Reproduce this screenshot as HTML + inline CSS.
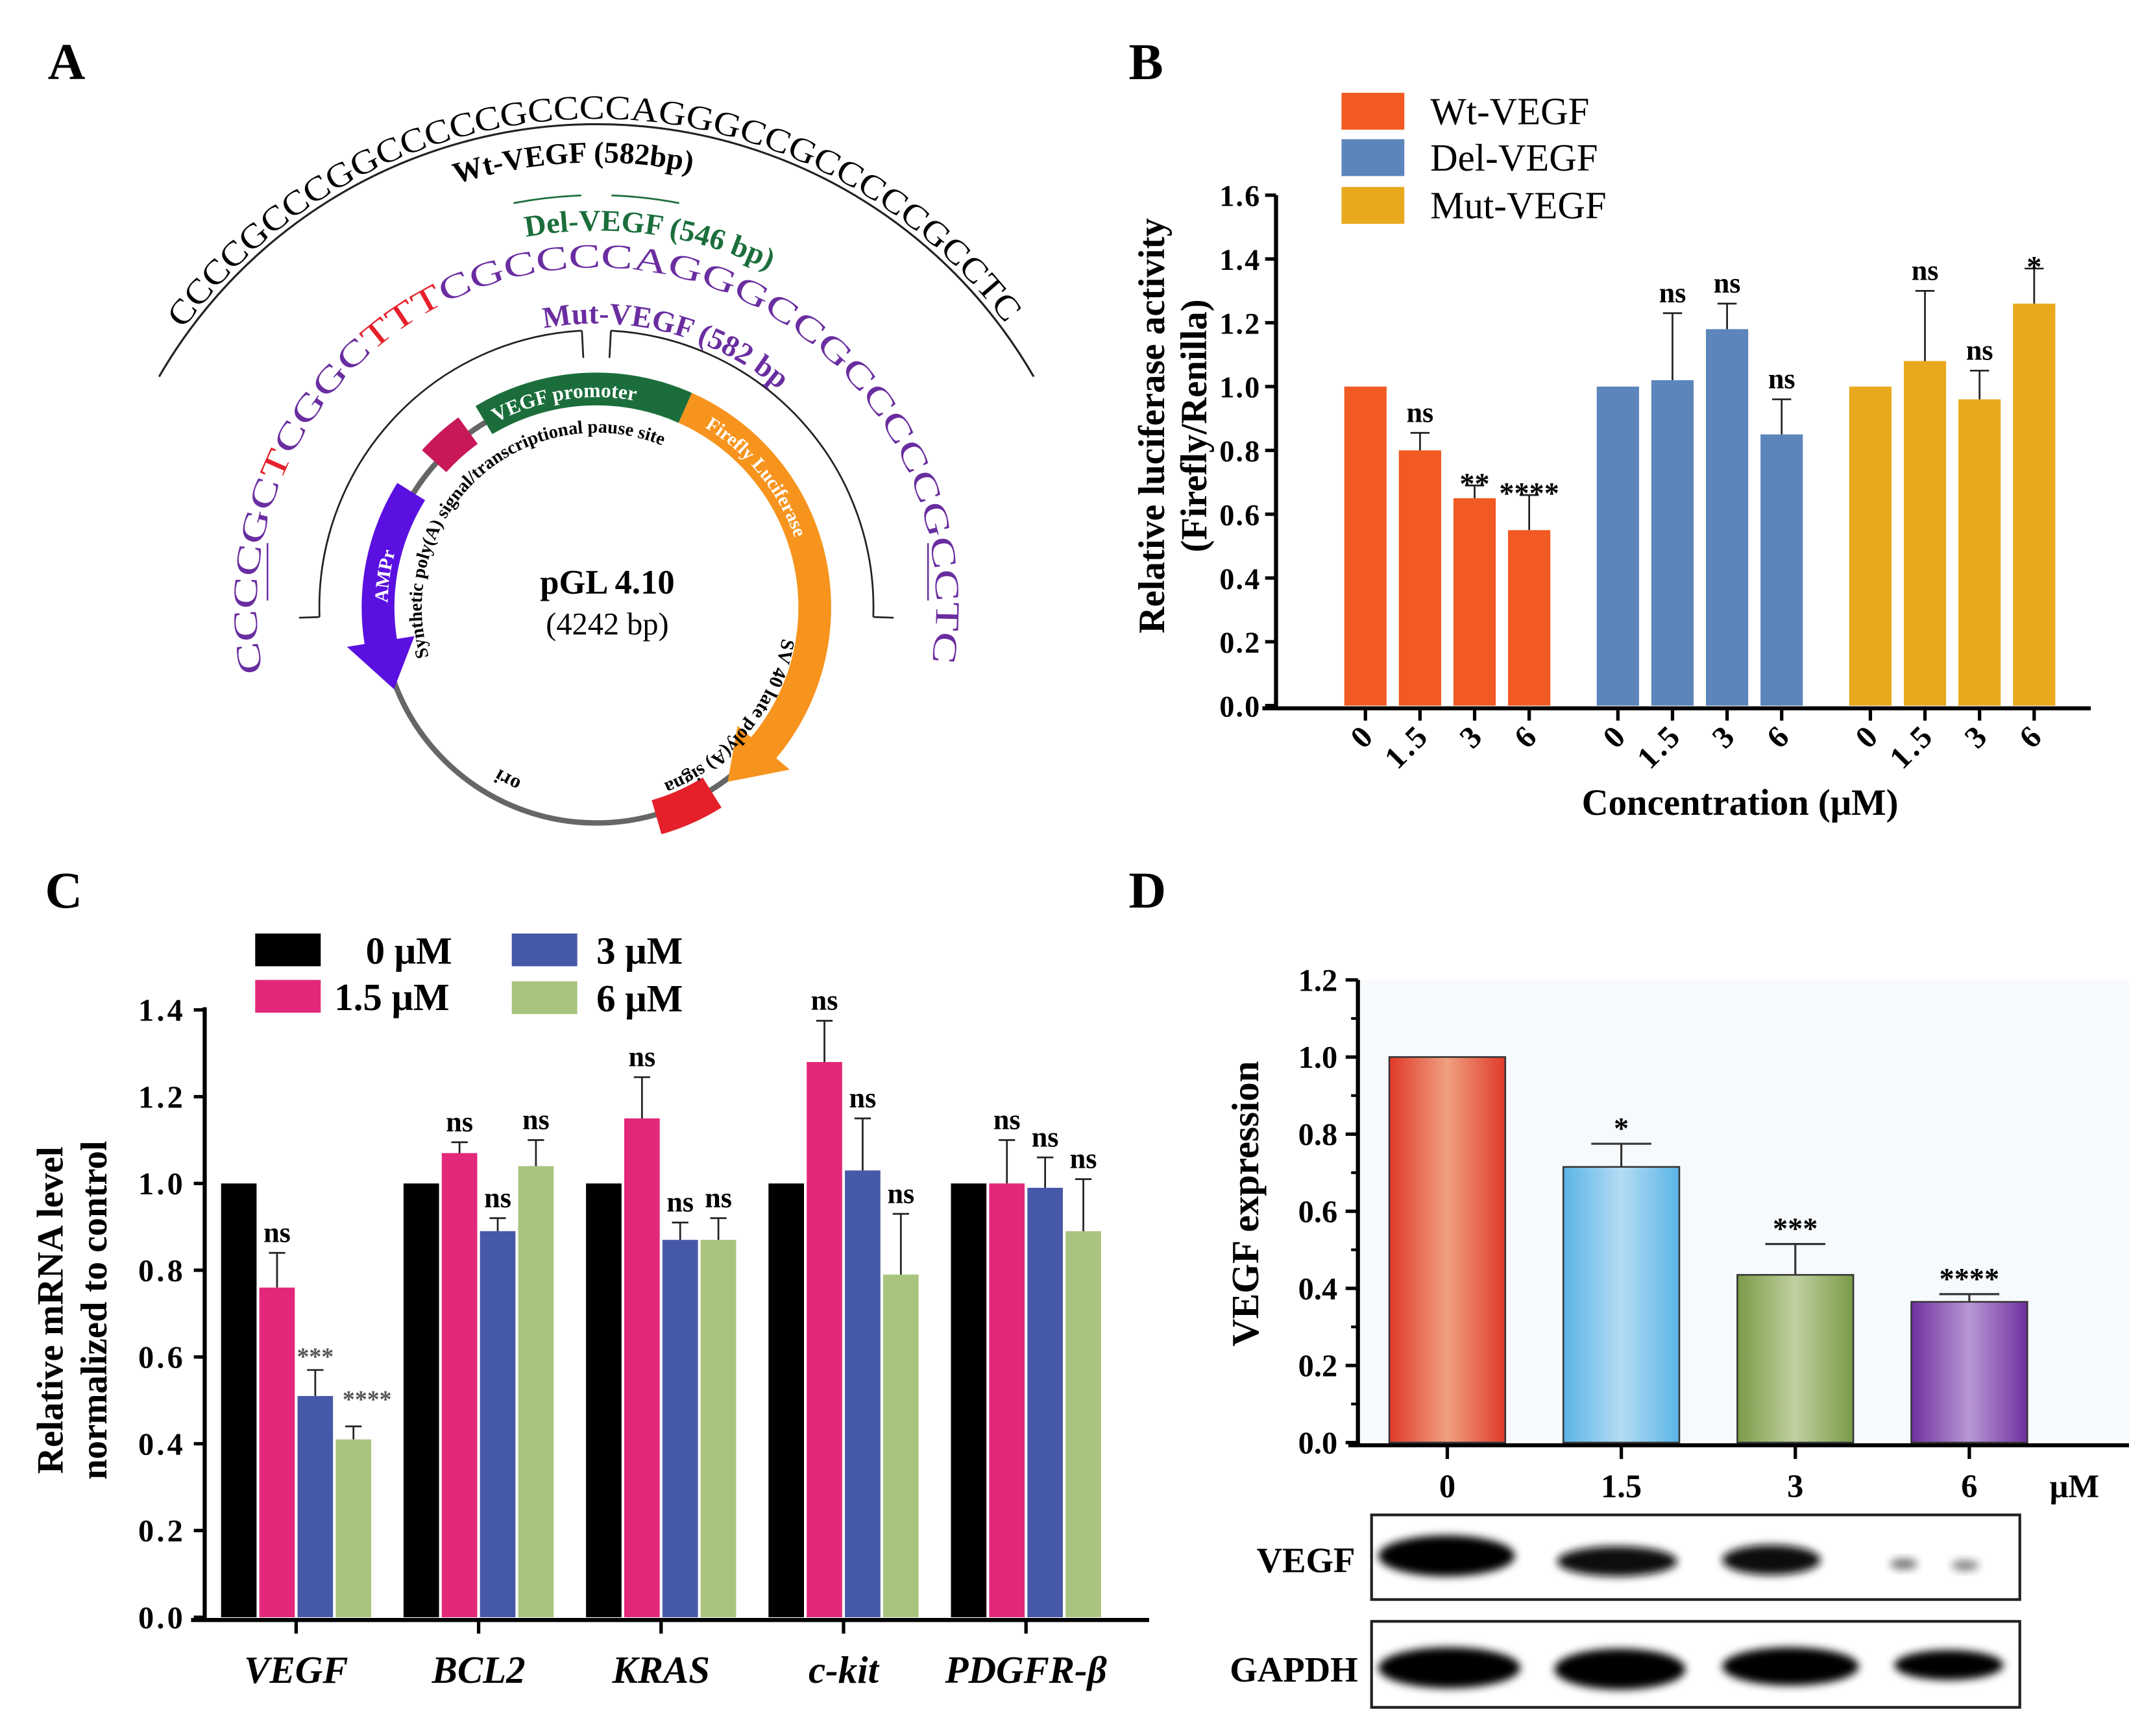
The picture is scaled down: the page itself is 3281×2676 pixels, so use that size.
<!DOCTYPE html>
<html><head><meta charset="utf-8"><style>
html,body{margin:0;padding:0;background:#fff;}
svg{display:block;}
text{font-family:"Liberation Serif",serif;}
</style></head><body>
<svg id="fig" xmlns="http://www.w3.org/2000/svg" width="3281" height="2676" viewBox="0 0 1560 1272" preserveAspectRatio="none">
<defs>
<linearGradient id="gRed" x1="0" x2="1"><stop offset="0" stop-color="#e03a2a"/><stop offset="0.5" stop-color="#f0a080"/><stop offset="1" stop-color="#e03a2a"/></linearGradient>
<linearGradient id="gBlue" x1="0" x2="1"><stop offset="0" stop-color="#5ab4e6"/><stop offset="0.5" stop-color="#b4dcf4"/><stop offset="1" stop-color="#5ab4e6"/></linearGradient>
<linearGradient id="gGreen" x1="0" x2="1"><stop offset="0" stop-color="#7a9a48"/><stop offset="0.5" stop-color="#c0d0a0"/><stop offset="1" stop-color="#7a9a48"/></linearGradient>
<linearGradient id="gPurple" x1="0" x2="1"><stop offset="0" stop-color="#7030a0"/><stop offset="0.5" stop-color="#b898d4"/><stop offset="1" stop-color="#7030a0"/></linearGradient>
<filter id="blur" x="-20%" y="-50%" width="140%" height="200%"><feGaussianBlur stdDeviation="3"/></filter>
</defs>
</svg>
<script>
// ---------- Panel B data ----------
const bCats = ['0','1.5','3','6'];
const bWt = [1.0, 0.80, 0.65, 0.55];
const bWtErr = [0, 0.055, 0.04, 0.11];
const bDel = [1.0, 1.02, 1.18, 0.85];
const bDelErr = [0, 0.21, 0.08, 0.11];
const bMut = [1.0, 1.08, 0.96, 1.26];
const bMutErr = [0, 0.22, 0.09, 0.11];
const bWtSig = ['', 'ns', '**', '****'];
const bDelSig = ['', 'ns', 'ns', 'ns'];
const bMutSig = ['', 'ns', 'ns', '*'];
const bTicks = [0, 0.2, 0.4, 0.6, 0.8, 1.0, 1.2, 1.4, 1.6];
// ---------- Panel C data ----------
const cGenes = ['VEGF', 'BCL2', 'KRAS', 'c-kit', 'PDGFR-β'];
const cDose0 = [1.0, 1.0, 1.0, 1.0, 1.0];
const cDose15 = [0.76, 1.07, 1.15, 1.28, 1.0];
const cDose3 = [0.51, 0.89, 0.87, 1.03, 0.99];
const cDose6 = [0.41, 1.04, 0.87, 0.79, 0.89];
const cErr15 = [0.08, 0.025, 0.095, 0.095, 0.1];
const cErr3 = [0.06, 0.03, 0.04, 0.12, 0.07];
const cErr6 = [0.03, 0.06, 0.05, 0.14, 0.12];
const cSig15 = ['ns', 'ns', 'ns', 'ns', 'ns'];
const cSig3 = ['***', 'ns', 'ns', 'ns', 'ns'];
const cSig6 = ['****', 'ns', 'ns', 'ns', 'ns'];
const cTicks = [0, 0.2, 0.4, 0.6, 0.8, 1.0, 1.2, 1.4];
// ---------- Panel D data ----------
const dCats = ['0', '1.5', '3', '6'];
const dVals = [1.0, 0.715, 0.435, 0.365];
const dErr = [0, 0.06, 0.08, 0.02];
const dSig = ['', '*', '***', '****'];
const dTicks = [0, 0.2, 0.4, 0.6, 0.8, 1.0, 1.2];

const NS = 'http://www.w3.org/2000/svg';
const svg = document.getElementById('fig');
function mk(tag, attrs, parent) {
  const e = document.createElementNS(NS, tag);
  for (const k in attrs) e.setAttribute(k, attrs[k]);
  (parent || svg).appendChild(e);
  return e;
}
function txt(str, attrs, parent) { const e = mk('text', attrs, parent); e.textContent = str; return e; }
function fmt(v) { return v.toFixed(1); }

let el;
// ---------- Panel labels ----------
el = txt('A', {x: 35, y: 58, 'font-size': 38, 'font-weight': 'bold'});


el = txt('B', {x: 827, y: 58, 'font-size': 38, 'font-weight': 'bold'});


el = txt('C', {x: 33, y: 665, 'font-size': 38, 'font-weight': 'bold'});


el = txt('D', {x: 827, y: 665, 'font-size': 38, 'font-weight': 'bold'});



// ---------- Panel A: plasmid ----------
const gA = mk('g', {});


function pt(cx, cy, r, deg) { const a = deg * Math.PI / 180; return [cx + r * Math.sin(a), cy - r * Math.cos(a)]; }
function arcD(cx, cy, r, a0, a1) {
  const p0 = pt(cx, cy, r, a0), p1 = pt(cx, cy, r, a1);
  const large = Math.abs(a1 - a0) > 180 ? 1 : 0, sweep = a1 > a0 ? 1 : 0;
  return `M${p0[0]},${p0[1]} A${r},${r} 0 ${large} ${sweep} ${p1[0]},${p1[1]}`;
}
const PX = 437, PY = 445, PR = 158;
el = mk('circle', {cx: PX, cy: PY, r: PR, fill: 'none', stroke: '#666', 'stroke-width': 4}, gA);


function band(a0, a1, r, w, color, arrow) {
  let d;
  const ri = r - w / 2, ro = r + w / 2;
  if (!arrow) {
    const o0 = pt(PX, PY, ro, a0), o1 = pt(PX, PY, ro, a1), i1 = pt(PX, PY, ri, a1), i0 = pt(PX, PY, ri, a0);
    const lg = Math.abs(a1 - a0) > 180 ? 1 : 0, sw = a1 > a0 ? 1 : 0;
    d = `M${o0} A${ro},${ro} 0 ${lg} ${sw} ${o1} L${i1} A${ri},${ri} 0 ${lg} ${1 - sw} ${i0} Z`;
  } else {
    const dir = a1 > a0 ? 1 : -1;
    const ah = a1 - dir * 13;
    const o0 = pt(PX, PY, ro, a0), o1 = pt(PX, PY, ro, ah), i1 = pt(PX, PY, ri, ah), i0 = pt(PX, PY, ri, a0);
    const oo = pt(PX, PY, ro + 13, ah), ii = pt(PX, PY, ri - 13, ah), tip = pt(PX, PY, r, a1);
    const lg = Math.abs(ah - a0) > 180 ? 1 : 0, sw = dir > 0 ? 1 : 0;
    d = `M${o0} A${ro},${ro} 0 ${lg} ${sw} ${o1} L${oo} L${tip} L${ii} L${i1} A${ri},${ri} 0 ${lg} ${1 - sw} ${i0} Z`;
  }
  return mk('path', {d: d, fill: color}, gA);
}
el = band(-31, 24, 160, 24, '#1b6e3c', false);  
el = band(24, 143, 160, 24, '#f7941d', true);  
el = band(148, 164, 160, 26, '#e5202a', false);  
el = band(-48, -36, 160, 24, '#c8185a', false);  
el = band(-58, -112, 160, 24, '#5a10e0', true);  
mk('path', {id: 'pRing', d: arcD(PX, PY, 154, -100, 250), fill: 'none'}, gA);
mk('path', {id: 'pInner', d: arcD(PX, PY, 128, -110, 100), fill: 'none'}, gA);
mk('path', {id: 'pInner2', d: arcD(PX, PY, 138, 60, 230), fill: 'none'}, gA);
mk('path', {id: 'pAmp', d: arcD(PX, PY, 153, -100, -60), fill: 'none'}, gA);
function pathText(str, href, offset, attrs) {
  const t = mk('text', attrs, gA);
  const tp = mk('textPath', {href: '#' + href, startOffset: offset}, t);
  tp.textContent = str;
  return t;
}
el = pathText('VEGF promoter', 'pRing', '192', {'font-size': 15, 'font-weight': 'bold', fill: '#fff'});
 
el = pathText('Firefly Luciferase', 'pRing', '352', {'font-size': 14, 'font-weight': 'bold', fill: '#fff'});
 
el = pathText('AMPr', 'pAmp', '30', {'font-size': 14, 'font-weight': 'bold', fill: '#fff'});
 
el = pathText('Synthetic poly(A) signal/transcriptional pause site', 'pInner', '8', {'font-size': 13.5, 'font-weight': 'bold'});
 
el = pathText('SV 40 late poly(A) signa', 'pInner2', '95', {'font-size': 14, 'font-weight': 'bold'});
 
el = pathText('ori', 'pInner2', '345', {'font-size': 15, 'font-weight': 'bold'});
 
el = txt('pGL 4.10', {x: 445, y: 435, 'font-size': 25, 'font-weight': 'bold', 'text-anchor': 'middle'}, gA);
 
el = txt('(4242 bp)', {x: 445, y: 465, 'font-size': 23, 'text-anchor': 'middle'}, gA);
 
el = mk('path', {d: arcD(PX, PY, 203, -92, -3) + ` M${pt(PX,PY,203,-3)} L${pt(PX,PY,183,-3)} M${pt(PX,PY,203,-92)} L${pt(PX,PY,218,-92)}`, fill: 'none', stroke: '#222', 'stroke-width': 1.3}, gA);
 
el = mk('path', {d: arcD(PX, PY, 203, 3, 92) + ` M${pt(PX,PY,203,3)} L${pt(PX,PY,183,3)} M${pt(PX,PY,203,92)} L${pt(PX,PY,218,92)}`, fill: 'none', stroke: '#222', 'stroke-width': 1.3}, gA);
 
el = mk('path', {d: arcD(437, 461, 370, -60, 60), fill: 'none', stroke: '#222', 'stroke-width': 1.5}, gA);
 
mk('path', {id: 'pWtSeq', d: arcD(437, 461, 374, -54, 54), fill: 'none'}, gA);
mk('path', {id: 'pWtLab', d: arcD(437, 461, 342, -20, 20), fill: 'none'}, gA);
mk('path', {id: 'pDelLab', d: arcD(437, 461, 292, -20, 28), fill: 'none'}, gA);
mk('path', {id: 'pMutSeq', d: arcD(PX, PY, 249, -101, 101), fill: 'none'}, gA);
mk('path', {id: 'pMutLab', d: arcD(PX, PY, 208, -12, 40), fill: 'none'}, gA);
el = mk('text', {'font-size': 25}, gA);
 
let tp = mk('textPath', {href: '#pWtSeq', textLength: 700, lengthAdjust: 'spacingAndGlyphs'}, el);
tp.textContent = 'CCCCGCCCGGCCCCCGCCCCAGGGCCGCCCCCGCCTC';
el = pathText('Wt-VEGF (582bp)', 'pWtLab', '15', {'font-size': 22, 'font-weight': 'bold'});
 
el = pathText('Del-VEGF (546 bp)', 'pDelLab', '50', {'font-size': 22, 'font-weight': 'bold', fill: '#1b6e3c'});
 
el = mk('path', {d: arcD(437, 461, 318, -11, -2) + ' ' + arcD(437, 461, 318, 2, 11), fill: 'none', stroke: '#1b6e3c', 'stroke-width': 1.3}, gA);
 
el = mk('text', {'font-size': 25, fill: '#6a2da0'}, gA);
 
tp = mk('textPath', {href: '#pMutSeq', textLength: 870, lengthAdjust: 'spacingAndGlyphs'}, el);
const seq = 'CCCCGCTCGGCTTTCGCCCCAGGGCCGCCCCCGCCTC';
const redIdx = [6, 11, 12, 13];
for (let i = 0; i < seq.length; i++) {
  const s = mk('tspan', redIdx.includes(i) ? {fill: '#e5202a'} : {}, tp);
  s.textContent = seq[i];
}
el = pathText('Mut-VEGF (582 bp)', 'pMutLab', '5', {'font-size': 22, 'font-weight': 'bold', fill: '#6a2da0'});
 
el = mk('path', {d: 'M196,398 L196,440 M680,398 L680,440', stroke: '#6a2da0', 'stroke-width': 1.2}, gA);
 

// ---------- Panel B ----------
const gB = mk('g', {});


const bY = v => 517 - v * (374 / 1.6);
const bX = (g, i) => 985 + g * 185 + i * 40;
const bW = 31;
el = mk('path', {d: 'M935,143 L935,519 M925,519 L1532,519', stroke: '#000', 'stroke-width': 3, fill: 'none'}, gB);
 
bTicks.forEach(t => {
  el = mk('line', {x1: 927, x2: 935, y1: bY(t), y2: bY(t), stroke: '#000', 'stroke-width': 2.5}, gB);
   
  el = txt(fmt(t), {x: 924, y: bY(t) + 8, 'font-size': 22, 'font-weight': 'bold', 'text-anchor': 'end', 'letter-spacing': 1}, gB);
   
});
const bSeries = [[bWt, bWtErr, bWtSig, '#f15a22', 'wt'], [bDel, bDelErr, bDelSig, '#5b85bb', 'del'], [bMut, bMutErr, bMutSig, '#e9a91e', 'mut']];
bSeries.forEach((s, g) => {
  s[0].forEach((v, i) => {
    const x = bX(g, i);
    el = mk('rect', {x: x, y: bY(v), width: bW, height: bY(0) - bY(v), fill: s[3]}, gB);
     
    if (s[1][i] > 0) {
      const cx = x + bW / 2, yt = bY(v + s[1][i]);
      el = mk('path', {d: `M${cx},${bY(v)} L${cx},${yt} M${cx - 7},${yt} L${cx + 7},${yt}`, stroke: '#222', 'stroke-width': 1.3}, gB);
       
    }
    if (s[2][i]) {
      const top = bY(v + s[1][i]);
      const star = s[2][i].includes('*');
      el = txt(s[2][i], {x: x + bW / 2, y: top - (star ? -6 : 8), 'font-size': star ? 22 : 21, 'font-weight': 'bold', 'text-anchor': 'middle'}, gB);
       
    }
    const cx = x + bW / 2;
    el = mk('line', {x1: cx, x2: cx, y1: 519, y2: 528, stroke: '#000', 'stroke-width': 2.5}, gB);
     
    el = txt(bCats[i], {x: cx + 8, y: 540, 'font-size': 23, 'font-weight': 'bold', 'text-anchor': 'end', transform: `rotate(-45 ${cx + 8} 540)`, 'letter-spacing': 2}, gB);
     
  });
});
el = txt('Concentration (μM)', {x: 1275, y: 597, 'font-size': 27, 'font-weight': 'bold', 'text-anchor': 'middle'}, gB);
 
el = txt('Relative luciferase activity', {x: 0, y: 0, 'font-size': 27, 'font-weight': 'bold', 'text-anchor': 'middle', transform: 'translate(853,312) rotate(-90)'}, gB);
 
el = txt('(Firefly/Renilla)', {x: 0, y: 0, 'font-size': 27, 'font-weight': 'bold', 'text-anchor': 'middle', transform: 'translate(884,312) rotate(-90)'}, gB);
 
[['Wt-VEGF', '#f15a22', 68], ['Del-VEGF', '#5b85bb', 102], ['Mut-VEGF', '#e9a91e', 137]].forEach(l => {
  el = mk('rect', {x: 983, y: l[2], width: 46, height: 27, fill: l[1]}, gB);
   
  el = txt(l[0], {x: 1048, y: l[2] + 23, 'font-size': 28}, gB);
   
});

// ---------- Panel C ----------
const gC = mk('g', {});


const cY = v => 1185 - v * (445 / 1.4);
const cX = (g, i) => 162 + g * 133.7 + i * 28;
const cW = 26;
el = mk('path', {d: 'M150,738 L150,1187 M140,1187 L842,1187', stroke: '#000', 'stroke-width': 3, fill: 'none'}, gC);
 
cTicks.forEach(t => {
  el = mk('line', {x1: 142, x2: 150, y1: cY(t), y2: cY(t), stroke: '#000', 'stroke-width': 2.5}, gC);
   
  el = txt(fmt(t), {x: 136, y: cY(t) + 8, 'font-size': 23, 'font-weight': 'bold', 'text-anchor': 'end', 'letter-spacing': 2}, gC);
   
});
const cColors = ['#000000', '#e3287a', '#4659a8', '#a9c47f'];
const cSeries = [cDose0, cDose15, cDose3, cDose6];
const cErrs = [null, cErr15, cErr3, cErr6];
const cSigs = [null, cSig15, cSig3, cSig6];
cGenes.forEach((gname, g) => {
  cSeries.forEach((ser, i) => {
    const x = cX(g, i), v = ser[g];
    el = mk('rect', {x: x, y: cY(v), width: cW, height: cY(0) - cY(v), fill: cColors[i]}, gC);
     
    if (cErrs[i]) {
      const cx = x + cW / 2, yt = cY(v + cErrs[i][g]);
      el = mk('path', {d: `M${cx},${cY(v)} L${cx},${yt} M${cx - 6},${yt} L${cx + 6},${yt}`, stroke: '#222', 'stroke-width': 1.3}, gC);
       
      const sg = cSigs[i][g];
      const star = sg.includes('*');
      const four = sg === '****';
      el = txt(sg, {x: cx + (four ? 10 : 0), y: star ? (four ? yt - 14 : yt - 4) : yt - 8, 'font-size': star ? 18 : 21, 'font-weight': 'bold', 'text-anchor': 'middle', fill: star ? '#555' : '#000'}, gC);
       
    }
  });
  const tx = cX(g, 0) + 55;
  el = mk('line', {x1: tx, x2: tx, y1: 1187, y2: 1197, stroke: '#000', 'stroke-width': 2.5}, gC);
   
  el = txt(gname, {x: tx, y: 1233, 'font-size': 28, 'font-weight': 'bold', 'font-style': 'italic', 'text-anchor': 'middle'}, gC);
   
});
el = txt('Relative mRNA level', {x: 0, y: 0, 'font-size': 27, 'font-weight': 'bold', 'text-anchor': 'middle', transform: 'translate(46,960) rotate(-90)'}, gC);
 
el = txt('normalized to control', {x: 0, y: 0, 'font-size': 27, 'font-weight': 'bold', 'text-anchor': 'middle', transform: 'translate(78,960) rotate(-90)'}, gC);
 
[['0 μM', cColors[0], 187, 684, 268], ['1.5 μM', cColors[1], 187, 718, 245], ['3 μM', cColors[2], 375, 684, 437], ['6 μM', cColors[3], 375, 719, 437]].forEach(l => {
  el = mk('rect', {x: l[2], y: l[3], width: 48, height: 24, fill: l[1]}, gC);
   
  el = txt(l[0], {x: l[4], y: l[3] + 22, 'font-size': 28, 'font-weight': 'bold'}, gC);
   
});

// ---------- Panel D ----------
const gD = mk('g', {});


const dY = v => 1057 - v * (339 / 1.2);
const dX = i => 1018 + i * 127.5;
const dW = 85;
el = mk('rect', {x: 997, y: 718, width: 568, height: 338, fill: '#f7fafd'}, gD);
 
el = mk('path', {d: 'M995,718 L995,1059 M988,1059 L1567,1059', stroke: '#000', 'stroke-width': 3, fill: 'none'}, gD);
 
dTicks.forEach((t, k) => {
  el = mk('line', {x1: 986, x2: 995, y1: dY(t), y2: dY(t), stroke: '#000', 'stroke-width': 2.5}, gD);
   
  if (k < dTicks.length - 1) {
    const m = (t + dTicks[k + 1]) / 2;
    el = mk('line', {x1: 990, x2: 995, y1: dY(m), y2: dY(m), stroke: '#000', 'stroke-width': 2}, gD);
     
  }
  el = txt(fmt(t), {x: 980, y: dY(t) + 8, 'font-size': 23, 'font-weight': 'bold', 'text-anchor': 'end'}, gD);
   
});
const dFills = ['url(#gRed)', 'url(#gBlue)', 'url(#gGreen)', 'url(#gPurple)'];
dVals.forEach((v, i) => {
  const x = dX(i);
  el = mk('rect', {x: x, y: dY(v), width: dW, height: dY(0) - dY(v), fill: dFills[i], stroke: '#333', 'stroke-width': 1.2}, gD);
   
  const cx = x + dW / 2;
  if (dErr[i] > 0) {
    const yt = dY(v + dErr[i]);
    el = mk('path', {d: `M${cx},${dY(v)} L${cx},${yt} M${cx - 22},${yt} L${cx + 22},${yt}`, stroke: '#333', 'stroke-width': 1.5}, gD);
     
    el = txt(dSig[i], {x: cx, y: yt - 4, 'font-size': 22, 'font-weight': 'bold', 'text-anchor': 'middle'}, gD);
     
  }
  el = mk('line', {x1: cx, x2: cx, y1: 1059, y2: 1069, stroke: '#000', 'stroke-width': 2.5}, gD);
   
  el = txt(dCats[i], {x: cx, y: 1097, 'font-size': 24, 'font-weight': 'bold', 'text-anchor': 'middle'}, gD);
   
});
el = txt('μM', {x: 1520, y: 1097, 'font-size': 24, 'font-weight': 'bold', 'text-anchor': 'middle'}, gD);
 
el = txt('VEGF expression', {x: 0, y: 0, 'font-size': 28, 'font-weight': 'bold', 'text-anchor': 'middle', transform: 'translate(922,882) rotate(-90)'}, gD);
 
el = mk('rect', {x: 1005, y: 1110, width: 475, height: 62, fill: '#fff', stroke: '#222', 'stroke-width': 2}, gD);
 
el = mk('rect', {x: 1005, y: 1188, width: 475, height: 63, fill: '#fff', stroke: '#222', 'stroke-width': 2}, gD);
 
[[1060, 1140, 50, 15, '#050505'], [1185, 1144, 44, 11, '#111'], [1298, 1143, 36, 11, '#111'], [1395, 1146, 10, 4, '#777'], [1440, 1147, 10, 4, '#888']].forEach(b => {
  el = mk('ellipse', {cx: b[0], cy: b[1], rx: b[2], ry: b[3], fill: b[4], filter: 'url(#blur)'}, gD);
   
});
[[1062, 1222, 52, 15], [1187, 1223, 48, 15], [1312, 1221, 50, 14], [1428, 1220, 40, 11]].forEach(b => {
  el = mk('ellipse', {cx: b[0], cy: b[1], rx: b[2], ry: b[3], fill: '#050505', filter: 'url(#blur)'}, gD);
   
});
el = txt('VEGF', {x: 993, y: 1152, 'font-size': 26, 'font-weight': 'bold', 'text-anchor': 'end'}, gD);
 
el = txt('GAPDH', {x: 995, y: 1232, 'font-size': 26, 'font-weight': 'bold', 'text-anchor': 'end'}, gD);
 
</script>
</body></html>
